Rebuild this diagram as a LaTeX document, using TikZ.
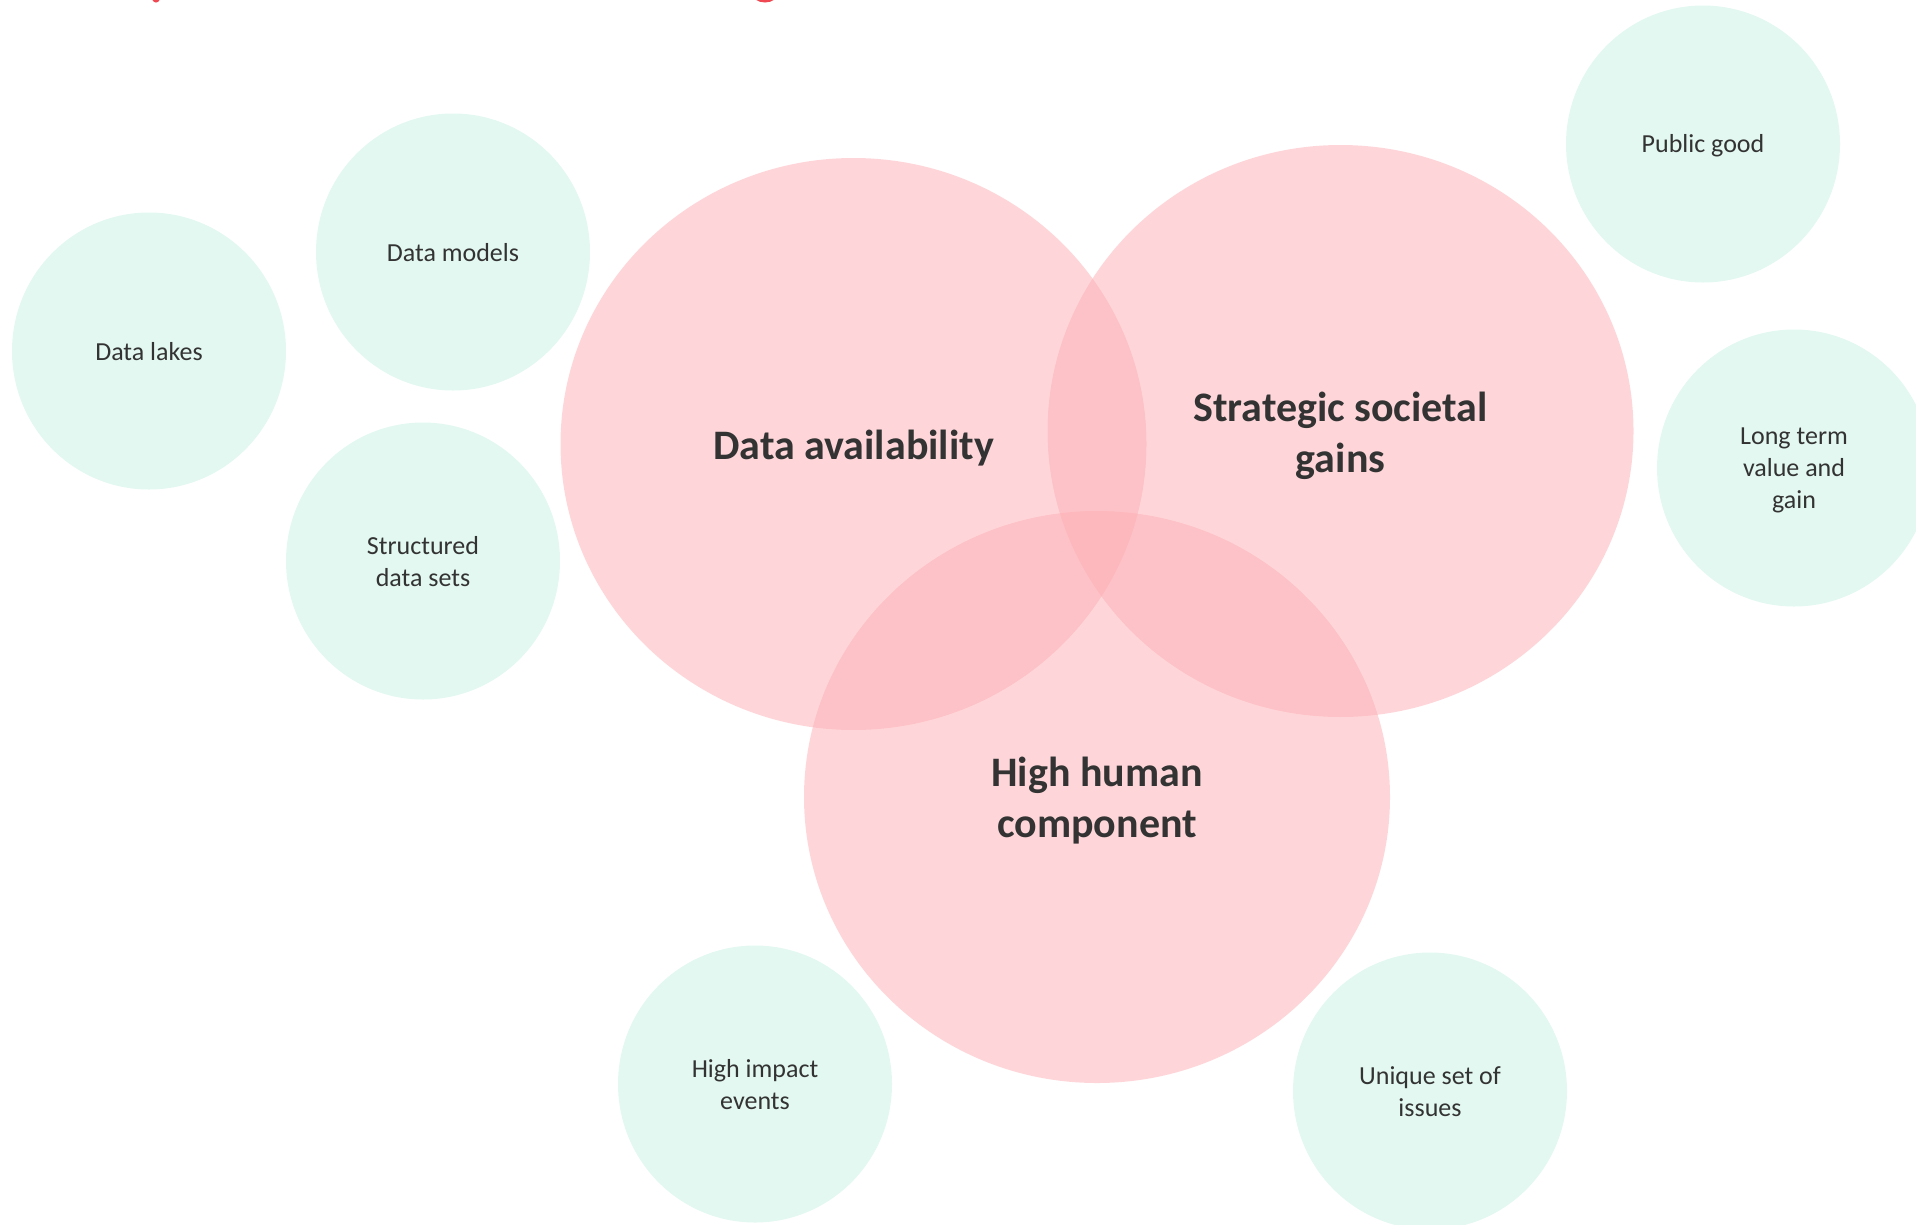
\documentclass[tikz,border=0pt]{standalone}
\usepackage{fontspec}
\setmainfont{Carlito}
\usetikzlibrary{shapes.geometric}
\definecolor{pinkc}{RGB}{253,174,180}
\definecolor{mint}{RGB}{227,248,240}
\definecolor{txt}{RGB}{51,51,51}
\definecolor{titlered}{RGB}{240,72,82}
\tikzset{
  bigc/.style={ellipse, inner sep=0pt, minimum width=586pt, minimum height=572pt,
    fill=pinkc, fill opacity=0.5, text opacity=1, text=txt, align=center,
    font=\fontsize{42}{51}\selectfont\bfseries},
  smallc/.style={ellipse, inner sep=0pt, minimum width=274pt, minimum height=277pt,
    fill=mint, text=txt, align=center, font=\fontsize{26}{32}\selectfont},
  bigt/.style={text=txt, align=center, font=\fontsize{42}{51}\selectfont\bfseries},
  smallt/.style={text=txt, align=center, font=\fontsize{26}{32}\selectfont}
}
\begin{document}
\begin{tikzpicture}[x=1pt,y=-1pt]
\useasboundingbox (0,0) rectangle (1916,1224);
\clip (0,0) rectangle (1916,1224);
% cut-off title fragments
\fill[titlered] (156,-4) ellipse (4.5pt and 6.5pt);
\fill[titlered] (765,-7) ellipse (13pt and 9.5pt);
% pink Venn circles
\node[bigc] (avail) at (853.5,444) {};
\node[bigc] (strat) at (1340.5,431) {};
\node[bigc] (human) at (1097,797) {};
\node[bigt] (availt) at (853.5,448) {Data availability};
\node[bigt] (stratt) at (1340.5,436) {Strategic societal\\gains};
\node[bigt] (humant) at (1097,801) {High human\\component};
% green circles
\node[smallc] (models) at (453,252) {};
\node[smallc] (lakes) at (149,351) {};
\node[smallc] (struct) at (423,561) {};
\node[smallc] (public) at (1703,144) {};
\node[smallc] (longterm) at (1794,468) {};
\node[smallc] (impact) at (755,1084) {};
\node[smallc] (unique) at (1430,1091) {};
\node[smallt] at (453,253) {Data models};
\node[smallt] at (149,352) {Data lakes};
\node[smallt] at (423,562) {Structured\\data sets};
\node[smallt] at (1703,146) {Public good};
\node[smallt] at (1794,470) {Long term\\value and\\gain};
\node[smallt] at (755,1085) {High impact\\events};
\node[smallt] at (1430,1092) {Unique set of\\issues};
\end{tikzpicture}
\end{document}
